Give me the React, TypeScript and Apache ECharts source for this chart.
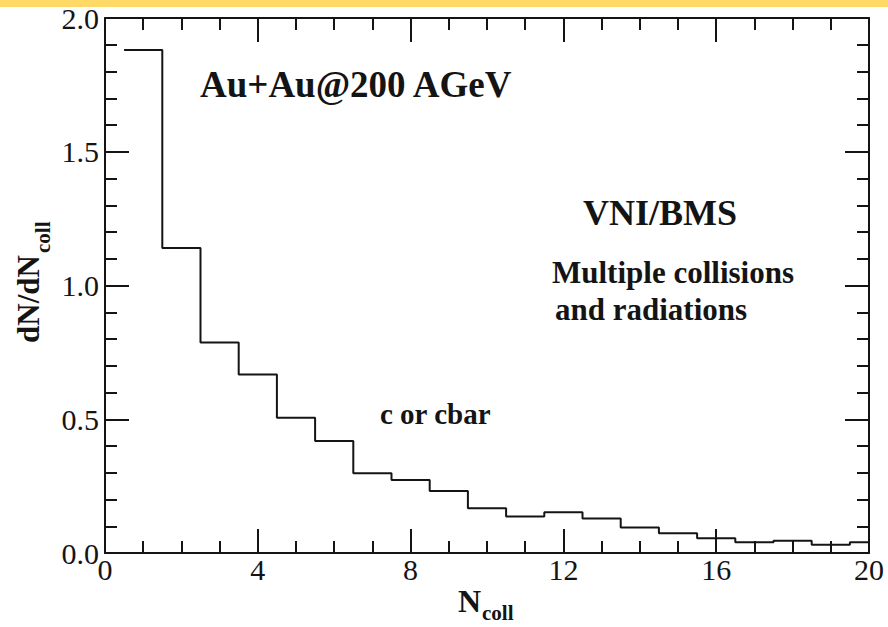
import React, { useEffect, useRef } from "react";
import * as echarts from "echarts";

// Histogram of the number of binary collisions per produced charm quark
const binCenters = [1, 2, 3, 4, 5, 6, 7, 8, 9, 10, 11, 12, 13, 14, 15, 16, 17, 18, 19, 20];
const dNdNcoll = [
  1.88, 1.14, 0.787, 0.667, 0.506, 0.419, 0.298, 0.273, 0.232, 0.167,
  0.136, 0.152, 0.129, 0.095, 0.074, 0.055, 0.040, 0.046, 0.031, 0.040,
];
const binWidth = 1;

const xTicks = { min: 0, max: 20, interval: 4, minorSplit: 4 };
const yTicks = { min: 0, max: 2, interval: 0.5, minorSplit: 5 };

const SERIF = '"Liberation Serif", "Times New Roman", serif';
const INK = "#141414";

function stepPoints(): number[][] {
  // left edge of every bin, plus the right edge of the last one
  const pts = binCenters.map((c, i) => [c - binWidth / 2, dNdNcoll[i]]);
  const last = binCenters.length - 1;
  pts.push([binCenters[last] + binWidth / 2, dNdNcoll[last]]);
  return pts;
}

function axisBase(showLabels: boolean, minorSplit: number) {
  return {
    axisLine: { show: true, onZero: false, lineStyle: { color: INK, width: 2 } },
    axisTick: { show: true, inside: true, length: 24, lineStyle: { color: INK, width: 2 } },
    minorTick: { show: true, splitNumber: minorSplit, length: 12, lineStyle: { color: INK, width: 2 } },
    splitLine: { show: false },
    minorSplitLine: { show: false },
    axisLabel: {
      show: showLabels,
      fontFamily: SERIF,
      fontSize: 30,
      color: INK,
    },
  };
}

export default function App() {
  const ref = useRef<HTMLDivElement>(null);

  useEffect(() => {
    if (!ref.current) return;
    const chart = echarts.init(ref.current, undefined, { renderer: "svg" });

    const xBase = axisBase(true, xTicks.minorSplit);
    const yBase = axisBase(true, yTicks.minorSplit);

    chart.setOption({
      animation: false,
      backgroundColor: "#ffffff",
      grid: { left: 105, right: 19, top: 18, bottom: 74, containLabel: false },
      xAxis: [
        {
          type: "value",
          position: "bottom",
          min: xTicks.min,
          max: xTicks.max,
          interval: xTicks.interval,
          ...xBase,
          axisLabel: { ...xBase.axisLabel, margin: 1 },
        },
        {
          type: "value",
          position: "top",
          min: xTicks.min,
          max: xTicks.max,
          interval: xTicks.interval,
          ...axisBase(false, xTicks.minorSplit),
        },
      ],
      yAxis: [
        {
          type: "value",
          position: "left",
          min: yTicks.min,
          max: yTicks.max,
          interval: yTicks.interval,
          ...yBase,
          axisLabel: {
            ...yBase.axisLabel,
            margin: 6,
            formatter: (v: number) => v.toFixed(1),
          },
        },
        {
          type: "value",
          position: "right",
          min: yTicks.min,
          max: yTicks.max,
          interval: yTicks.interval,
          ...axisBase(false, yTicks.minorSplit),
        },
      ],
      series: [
        {
          type: "line",
          xAxisIndex: 0,
          yAxisIndex: 0,
          step: "end",
          symbol: "none",
          clip: true,
          lineStyle: { color: INK, width: 2 },
          data: stepPoints(),
        },
      ],
      graphic: [
        {
          type: "rect",
          shape: { x: 0, y: 0, width: 888, height: 7 },
          style: { fill: "#ffd966" },
          silent: true,
        },
        {
          type: "text",
          x: 200,
          y: 84,
          style: {
            text: "Au+Au@200 AGeV",
            font: `bold 37px ${SERIF}`,
            fill: INK,
            align: "left",
            verticalAlign: "middle",
          },
        },
        {
          type: "text",
          x: 583,
          y: 213,
          style: {
            text: "VNI/BMS",
            font: `bold 36px ${SERIF}`,
            fill: INK,
            align: "left",
            verticalAlign: "middle",
          },
        },
        {
          type: "text",
          x: 552,
          y: 272,
          style: {
            text: "Multiple collisions",
            font: `bold 31px ${SERIF}`,
            fill: INK,
            align: "left",
            verticalAlign: "middle",
          },
        },
        {
          type: "text",
          x: 555,
          y: 309,
          style: {
            text: "and radiations",
            font: `bold 31px ${SERIF}`,
            fill: INK,
            align: "left",
            verticalAlign: "middle",
          },
        },
        {
          type: "text",
          x: 380,
          y: 414,
          style: {
            text: "c or cbar",
            font: `bold 29px ${SERIF}`,
            fill: INK,
            align: "left",
            verticalAlign: "middle",
          },
        },
        // y axis title: dN/dN_coll, reading bottom to top
        {
          type: "group",
          x: 28,
          y: 299,
          rotation: Math.PI / 2,
          children: [
            {
              type: "text",
              x: 0,
              y: 0,
              style: {
                text: "dN/dN",
                font: `bold 31px ${SERIF}`,
                fill: INK,
                align: "center",
                verticalAlign: "middle",
              },
            },
            {
              type: "text",
              x: 46,
              y: 15,
              style: {
                text: "coll",
                font: `bold 21px ${SERIF}`,
                fill: INK,
                align: "left",
                verticalAlign: "middle",
              },
            },
          ],
        },
        // x axis title: N_coll
        {
          type: "text",
          x: 458,
          y: 601,
          style: {
            text: "N",
            font: `bold 32px ${SERIF}`,
            fill: INK,
            align: "left",
            verticalAlign: "middle",
          },
        },
        {
          type: "text",
          x: 482,
          y: 613,
          style: {
            text: "coll",
            font: `bold 21px ${SERIF}`,
            fill: INK,
            align: "left",
            verticalAlign: "middle",
          },
        },
      ],
    });

    return () => chart.dispose();
  }, []);

  return (
    <div
      ref={ref}
      style={{ position: "absolute", left: 0, top: 0, width: 888, height: 627 }}
    />
  );
}
